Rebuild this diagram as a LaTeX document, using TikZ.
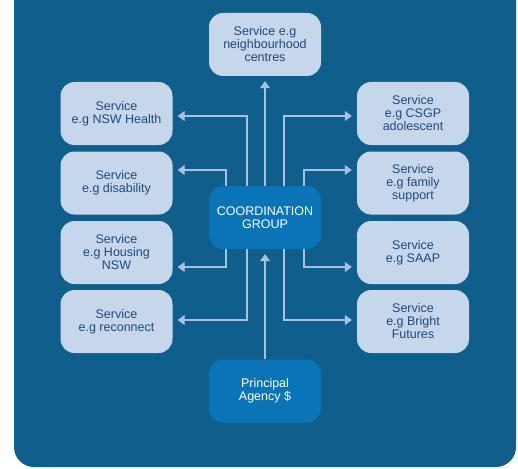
\documentclass[tikz,border=0pt]{standalone}
\usepackage{fontspec}
\setmainfont{Liberation Sans}
\usetikzlibrary{arrows.meta,positioning}

\definecolor{bgblue}{HTML}{0F5E8C}
\definecolor{svcfill}{HTML}{C6D6EB}
\definecolor{svctext}{HTML}{1D4C7C}
\definecolor{hubfill}{HTML}{0A74B7}
\definecolor{linkcol}{HTML}{A8C2DE}

\begin{document}
\begin{tikzpicture}[x=1pt,y=-1pt,>={Triangle[length=7pt,width=10pt]},shorten >=5pt]
	\useasboundingbox (0,0) rectangle (518,468);
	\fill[bgblue,rounded corners=20pt] (14,0) |- (516,467) -- (516,0);
	\tikzset{every node/.style={rounded corners=14pt,minimum width=112pt,minimum height=63pt,
		align=center,inner sep=0pt,font=\fontsize{12.5}{13}\selectfont}}
	\tikzset{service/.style={fill=svcfill,text=svctext}}
	\tikzset{hub/.style={fill=hubfill,text=white}}
	\tikzset{link/.style={->,draw=linkcol,line width=1.3pt}}
	\node[service] (hood)   at (265,44.5)  {Service e.g\\neighbourhood\\centres};
	\node[hub]     (coord)  at (265,217.5) {COORDINATION\\GROUP};
	\node[hub]     (agency) at (265,391)   {Principal\\Agency \$};
	\node[service] (health) at (116.5,113.5) {Service\\e.g NSW Health};
	\node[service] (disab)  at (116.5,183)   {Service\\e.g disability};
	\node[service] (house)  at (116.5,252.5) {Service\\e.g Housing\\NSW};
	\node[service] (recon)  at (116.5,321.5) {Service\\e.g reconnect};
	\node[service] (csgp)   at (413,113.5)   {Service\\e.g CSGP\\adolescent};
	\node[service] (family) at (413,183)     {Service\\e.g family\\support};
	\node[service] (saap)   at (413,252.5)   {Service\\e.g SAAP};
	\node[service] (bright) at (413,321.5)   {Service\\e.g Bright\\Futures};
	\draw[link] (agency) -- (coord);
	\draw[link] (coord) -- (hood);
	\draw[link] ([xshift=-18pt]coord.north) |- ([yshift=-2.5pt]health.east);
	\draw[link] ([xshift=-39pt]coord.north) |- ([yshift=13pt]disab.east);
	\draw[link] ([xshift=-39pt]coord.south) |- ([yshift=-14.5pt]house.east);
	\draw[link] ([xshift=-18pt]coord.south) |- ([yshift=1.5pt]recon.east);
	\draw[link] ([xshift=19pt]coord.north) |- ([yshift=-2.5pt]csgp.west);
	\draw[link] ([xshift=39pt]coord.north) |- ([yshift=13pt]family.west);
	\draw[link] ([xshift=39pt]coord.south) |- ([yshift=-14.5pt]saap.west);
	\draw[link] ([xshift=19pt]coord.south) |- ([yshift=1.5pt]bright.west);
\end{tikzpicture}
\end{document}
